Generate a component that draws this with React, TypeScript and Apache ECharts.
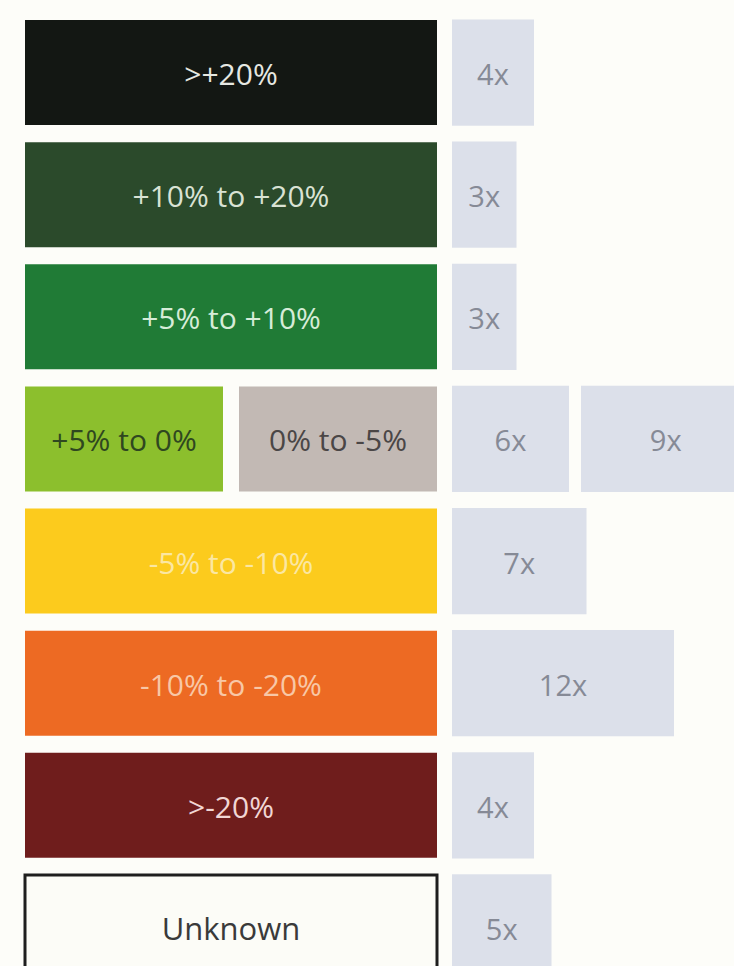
import React, { useEffect, useRef } from "react";
import * as echarts from "echarts";

const rowNames = [">+20%", "+10% to +20%", "+5% to +10%", "+5% to 0% / 0% to -5%", "-5% to -10%", "-10% to -20%", ">-20%", "Unknown"];
const bandLabels: string[][] = [
  [">+20%"],
  ["+10% to +20%"],
  ["+5% to +10%"],
  ["+5% to 0%", "0% to -5%"],
  ["-5% to -10%"],
  ["-10% to -20%"],
  [">-20%"],
  ["Unknown"],
];
const bandColors: string[][] = [
  ["#131713"],
  ["#2b4a2b"],
  ["#207b36"],
  ["#8cbf2d", "#c2b9b4"],
  ["#fccb1d"],
  ["#ed6a23"],
  ["#6f1d1c"],
  ["#fcfcf7"],
];
const bandTextColors: string[][] = [
  ["#e6e8e2"],
  ["#d9e2d4"],
  ["#d6ecd8"],
  ["#2f4720", "#4a4646"],
  ["#fbe7a2"],
  ["#f8c7a6"],
  ["#f1d6d4"],
  ["#3a3a3a"],
];
const counts: number[][] = [[4], [3], [3], [6, 9], [7], [12], [4], [5]];
const countLabels: string[][] = [["4x"], ["3x"], ["3x"], ["6x", "9x"], ["7x"], ["12x"], ["4x"], ["5x"]];

export default function App() {
  const ref = useRef<HTMLDivElement>(null);
  useEffect(() => {
    if (!ref.current) return;
    const chart = echarts.init(ref.current, null, { renderer: "svg" });

    const leftData: any[] = [];
    const leftMeta: any[] = [];
    bandLabels.forEach((labs, r) => {
      labs.forEach((lab, p) => {
        leftData.push([r, p, labs.length]);
        leftMeta.push({ lab, color: bandColors[r][p], text: bandTextColors[r][p], r });
      });
    });
    const rightData: any[] = [];
    const rightMeta: any[] = [];
    counts.forEach((cs, r) => {
      let off = 0;
      cs.forEach((c, s) => {
        rightData.push([c, r, off, s]);
        rightMeta.push({ lab: countLabels[r][s] });
        off += c;
      });
    });

    const FONT = "Open Sans, Noto Sans, sans-serif";
    const pad = 12;
    const gapR = 12;

    chart.setOption({
      animation: false,
      backgroundColor: "#fdfdf9",
      grid: [
        { left: 25, top: 11.5, width: 412, height: 977 },
        { left: 452, top: 11.5, width: 262.5, height: 977 },
      ],
      xAxis: [
        { type: "value", gridIndex: 0, min: 0, max: 1, show: false },
        { type: "value", gridIndex: 1, min: 0, max: 15, show: false },
      ],
      yAxis: [
        { type: "category", gridIndex: 0, data: rowNames, inverse: true, show: false },
        { type: "category", gridIndex: 1, data: rowNames, inverse: true, show: false },
      ],
      series: [
        {
          type: "custom",
          xAxisIndex: 0,
          yAxisIndex: 0,
          data: leftData,
          renderItem: (params: any, api: any) => {
            const r = api.value(0);
            const p = api.value(1);
            const n = api.value(2);
            const m = leftMeta[params.dataIndex];
            const c0 = api.coord([0, r]);
            const x1 = api.coord([1, r])[0];
            const bandH = api.size([0, 1])[1];
            const h = bandH * 0.86;
            const gap = 16;
            const w = (x1 - c0[0] - gap * (n - 1)) / n;
            const x = c0[0] + p * (w + gap);
            const y = c0[1] - h / 2;
            const isUnknown = m.lab === "Unknown";
            return {
              type: "group",
              children: [
                {
                  type: "rect",
                  shape: { x, y, width: w, height: h },
                  style: {
                    fill: m.color,
                    stroke: isUnknown ? "#1e1e1e" : null,
                    lineWidth: isUnknown ? 3 : 0,
                  },
                },
                {
                  type: "text",
                  style: {
                    text: m.lab,
                    x: x + w / 2,
                    y: c0[1] + 1,
                    align: "center",
                    verticalAlign: "middle",
                    fill: m.text,
                    font: `${isUnknown ? 31 : 30}px ${FONT}`,
                  },
                },
              ],
            };
          },
        },
        {
          type: "custom",
          xAxisIndex: 1,
          yAxisIndex: 1,
          data: rightData,
          renderItem: (params: any, api: any) => {
            const c = api.value(0);
            const r = api.value(1);
            const off = api.value(2);
            const s = api.value(3);
            const m = rightMeta[params.dataIndex];
            const p0 = api.coord([off, r]);
            const bandH = api.size([0, 1])[1];
            const h = bandH * 0.87;
            const w = api.size([c, 0])[0] + pad;
            const x = p0[0] + s * (pad + gapR);
            const y = p0[1] - h / 2;
            return {
              type: "group",
              children: [
                {
                  type: "rect",
                  shape: { x, y, width: w, height: h },
                  style: { fill: "#dce0ea" },
                },
                {
                  type: "text",
                  style: {
                    text: m.lab,
                    x: x + w / 2,
                    y: p0[1] + 1,
                    align: "center",
                    verticalAlign: "middle",
                    fill: "#868a96",
                    font: `29px ${FONT}`,
                  },
                },
              ],
            };
          },
        },
      ],
    });
    return () => chart.dispose();
  }, []);
  return (
    <div
      ref={ref}
      style={{ position: "fixed", left: 0, top: 0, width: 734, height: 1000 }}
    />
  );
}
